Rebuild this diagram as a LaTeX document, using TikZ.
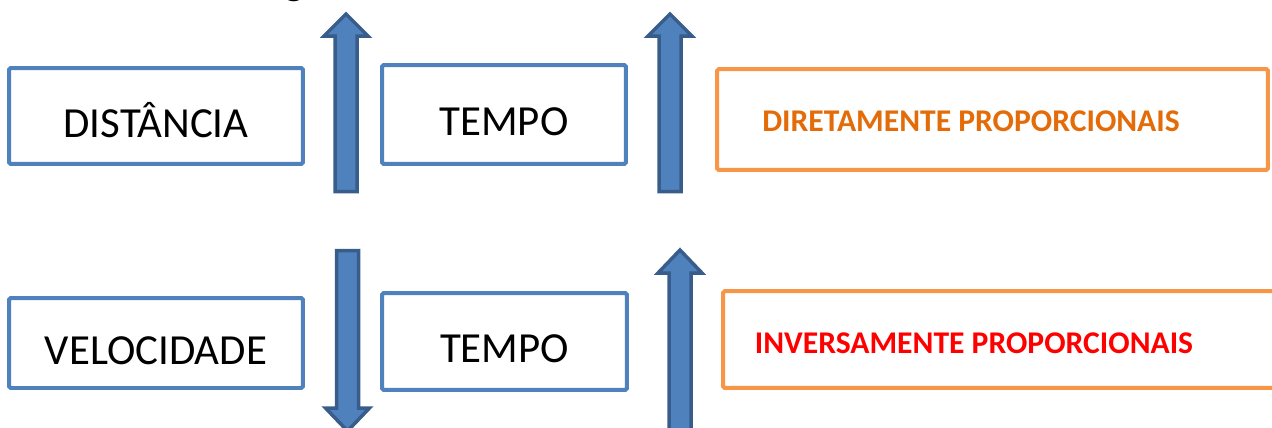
\documentclass[tikz,border=0pt]{standalone}
\usepackage{fontspec}
\setmainfont{Carlito}
\definecolor{caixaazul}{HTML}{4F81BD}
\definecolor{setaborda}{HTML}{385D8A}
\definecolor{caixalaranja}{HTML}{F79646}
\definecolor{textolaranja}{HTML}{E36C09}
\tikzset{
  caixa/.style={draw=caixaazul, line width=0.08cm, rounded corners=1pt, inner sep=0pt,
    text height=0.84cm, text depth=0pt, font=\fontsize{24.4}{28}\selectfont},
  resultado/.style={draw=caixalaranja, line width=0.08cm, rounded corners=1pt, inner sep=0pt},
  rotulo/.style={anchor=base, inner sep=0pt, font=\bfseries\fontsize{18}{22}\selectfont},
  seta/.style={fill=caixaazul, draw=setaborda, line width=0.07cm}
}
\begin{document}
\begin{tikzpicture}[x=0.02cm, y=-0.02cm]
  \useasboundingbox (0,0) rectangle (1272,427);
  \clip (0,0) rectangle (1272,427);
  \node[anchor=base, inner sep=0pt, font=\fontsize{24}{28}\selectfont] (titulo) at (294,-6) {g}; % cut off at the top
  % first line
  \node[caixa, minimum width=5.88cm, minimum height=1.92cm] (dist) at (156,116) {DISTÂNCIA};
  \node[caixa, minimum width=4.88cm, minimum height=1.98cm] (tempoA) at (504,114.5) {TEMPO};
  \node[resultado, minimum width=11.02cm, minimum height=2.02cm] (direta) at (992.5,119.5) {};
  \node[rotulo, text=textolaranja] (diretaTxt) at (971,131) {DIRETAMENTE PROPORCIONAIS};
  % second line
  \node[caixa, minimum width=5.88cm, minimum height=1.80cm] (vel) at (156,343) {VELOCIDADE};
  \node[caixa, minimum width=4.90cm, minimum height=1.94cm] (tempoB) at (504.5,341.5) {TEMPO};
  \node[resultado, minimum width=11.8cm, minimum height=1.94cm] (inversa) at (1018,339.5) {};
  \node[rotulo, text=red] (inversaTxt) at (974,353) {INVERSAMENTE PROPORCIONAIS};
  % block arrows: x / tail / head base / tip
  \foreach \x/\t/\b/\p in {346/191.5/36/14, 670/191.5/36/14, 347.5/250.5/408/431, 680/440/273/250}
    \draw[seta] (\x-11,\t) -- (\x-11,\b) -- (\x-22,\b) -- (\x,\p) -- (\x+22,\b) -- (\x+11,\b) -- (\x+11,\t) -- cycle;
\end{tikzpicture}
\end{document}
